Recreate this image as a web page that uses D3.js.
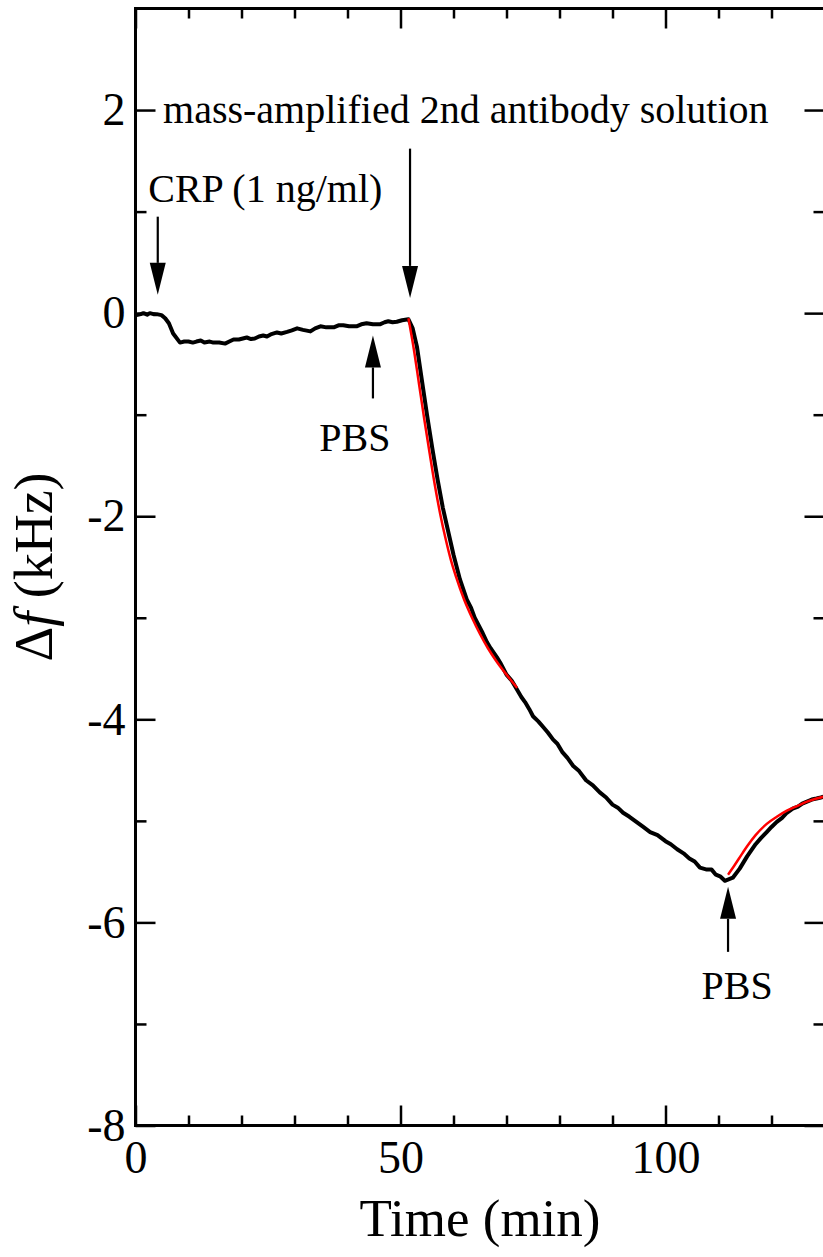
<!DOCTYPE html>
<html>
<head>
<meta charset="utf-8">
<script src="https://cdn.jsdelivr.net/npm/d3@7"></script>
<style>
  body { margin: 0; background: #fff; }
  svg { display: block; font-family: "Liberation Serif", "Times New Roman", serif; }
</style>
</head>
<body>
<div id="chart"></div>
<script>
// Données (temps en min, Δf en kHz)
const timeMeasured = [0, 1, 1.5, 2.2, 2.7, 3.4, 4.0, 4.9, 5.6, 6.3, 7.1, 8.4, 9.2, 10, 10.8, 11.5, 12.3, 13, 14, 14.7, 15.8, 16.9, 17.7, 18.5, 19.5, 21, 21.8, 22.5, 23.3, 24.1, 24.8, 25.5, 26.7, 27.5, 28.6, 29.5, 30.5, 31.6, 33, 33.9, 34.9, 36, 37.4, 38.3, 39.2, 40.3, 41.7, 42.6, 43.6, 44.8, 46.1, 47, 47.7, 48.5, 49.3, 50.3, 51.5,
  52.3, 53.1, 54, 55, 56, 57, 58, 59, 60, 61.2, 62.5, 63.3, 64, 65.5, 66.3, 67, 68.2, 68.8, 70, 71, 72, 72.8, 73.5, 74.3, 75, 76, 77, 77.8, 78.8, 79.6, 80.5, 81.5, 82.6, 83.7, 85, 86.3, 87.6, 88.8, 90, 91, 92, 93.2, 94.5, 95.8, 97.1, 98.5, 100, 101, 102.2, 103.4, 104.5, 105.5, 106.5, 107.8, 108.7, 109.5, 110.4, 111.2,
  112.7, 114, 115.4, 117, 118, 119.1, 120, 121, 122, 122.9, 124, 125, 125.8, 126.7, 127.6, 128.5, 129.3, 130];
const dfMeasured = [-0.02, -0.01, 0.0, -0.015, 0.0, -0.01, -0.01, -0.02, -0.05, -0.10, -0.20, -0.29, -0.28, -0.28, -0.29, -0.28, -0.27, -0.29, -0.28, -0.29, -0.29, -0.30, -0.28, -0.26, -0.26, -0.24, -0.255, -0.25, -0.23, -0.22, -0.23, -0.21, -0.19, -0.2, -0.185, -0.17, -0.15, -0.165, -0.18, -0.15, -0.13, -0.14, -0.14, -0.12, -0.12, -0.13, -0.13, -0.11, -0.10, -0.11, -0.11, -0.09, -0.08, -0.09, -0.085, -0.07, -0.06,
  -0.15, -0.33, -0.65, -1.0, -1.33, -1.64, -1.92, -2.15, -2.38, -2.62, -2.82, -2.9, -3.0, -3.15, -3.24, -3.3, -3.39, -3.44, -3.56, -3.62, -3.71, -3.78, -3.83, -3.9, -3.97, -4.02, -4.08, -4.13, -4.2, -4.24, -4.32, -4.38, -4.46, -4.51, -4.6, -4.65, -4.72, -4.77, -4.84, -4.87, -4.92, -4.96, -5.01, -5.06, -5.11, -5.14, -5.2, -5.23, -5.28, -5.32, -5.37, -5.4, -5.46, -5.48, -5.48, -5.53, -5.55, -5.59,
  -5.56, -5.47, -5.35, -5.23, -5.17, -5.11, -5.06, -5.01, -4.97, -4.92, -4.88, -4.86, -4.83, -4.81, -4.79, -4.78, -4.77, -4.76];

// Courbes d'ajustement (rouge)
const timeFit1 = [51.5, 52.5, 53.5, 54.5, 55.5, 56.5, 57.5, 58.5, 59.5, 60.5, 62, 63.5, 65, 66.5, 68, 70, 72];
const dfFit1 = [-0.05, -0.35, -0.7, -1.05, -1.38, -1.7, -1.98, -2.22, -2.43, -2.6, -2.82, -3.0, -3.16, -3.3, -3.42, -3.56, -3.69];
const timeFit2 = [111.8, 113, 114.5, 115.4, 117, 119.1, 121, 122.9, 125, 126.7, 128.5, 130];
const dfFit2 = [-5.53, -5.44, -5.32, -5.25, -5.14, -5.03, -4.96, -4.9, -4.85, -4.81, -4.78, -4.76];

// Ticks
const xMajorTicks = [0, 50, 100];
const xMinorTicks = [10, 20, 30, 40, 60, 70, 80, 90, 110, 120];
const yMajorTicks = [2, 0, -2, -4, -6, -8];
const yMinorTicks = [1, -1, -3, -5, -7];

// Flèches : temps, Δf de la queue, Δf de la pointe
const arrowTimes = [4.2, 51.8, 44.8, 111.8];
const arrowTails = [0.95, 1.62, -0.84, -6.29];
const arrowTips = [0.18, 0.15, -0.22, -5.65];

// Annotations
const labelTexts = ["CRP (1 ng/ml)", "mass-amplified 2nd antibody solution", "PBS", "PBS"];
const labelTimes = [2.4, 5.2, 41.4, 113.5];
const labelValues = [1.09, 1.87, -1.36, -6.75];
const labelAnchors = ["start", "start", "middle", "middle"];

const width = 823, height = 1257;
const serif = '"Liberation Serif", "Times New Roman", serif';

const svg = d3.select('#chart')
  .append('svg')
  .attr('width', width)
  .attr('height', height);

// Scales
const x = d3.scaleLinear().domain([0, 130]).range([135.5, 824.5]);
const y = d3.scaleLinear().domain([-8, 3]).range([1125.5, 8.5]);
const [x0, x1] = x.range();
const [yb, yt] = y.range();

// clip
svg.append('clipPath').attr('id', 'clip')
  .append('rect')
  .attr('x', x0).attr('y', yt)
  .attr('width', x1 - x0).attr('height', yb - yt);

// Axes (ticks vers l'intérieur)
const tickStyle = g => {
  g.attr('font-family', serif).attr('font-size', 46);
  g.select('.domain').remove();
  g.selectAll('.tick line').attr('stroke', '#000').attr('stroke-width', 2.5);
  g.selectAll('.tick text').attr('fill', '#000');
};

svg.append('g').attr('transform', `translate(0,${yb})`)
  .call(d3.axisBottom(x).tickValues(xMajorTicks).tickSizeInner(-20).tickSizeOuter(0).tickPadding(15).tickFormat(d3.format('d')))
  .call(tickStyle);
svg.append('g').attr('transform', `translate(0,${yb})`)
  .call(d3.axisBottom(x).tickValues(xMinorTicks).tickSizeInner(-10).tickSizeOuter(0).tickFormat(''))
  .call(tickStyle);
svg.append('g').attr('transform', `translate(0,${yt})`)
  .call(d3.axisTop(x).tickValues(xMajorTicks).tickSizeInner(-20).tickSizeOuter(0).tickFormat(''))
  .call(tickStyle);
svg.append('g').attr('transform', `translate(0,${yt})`)
  .call(d3.axisTop(x).tickValues(xMinorTicks).tickSizeInner(-10).tickSizeOuter(0).tickFormat(''))
  .call(tickStyle);

svg.append('g').attr('transform', `translate(${x0},0)`)
  .call(d3.axisLeft(y).tickValues(yMajorTicks).tickSizeInner(-20).tickSizeOuter(0).tickPadding(10).tickFormat(d => String(d)))
  .call(tickStyle);
svg.append('g').attr('transform', `translate(${x0},0)`)
  .call(d3.axisLeft(y).tickValues(yMinorTicks).tickSizeInner(-11).tickSizeOuter(0).tickFormat(''))
  .call(tickStyle);
svg.append('g').attr('transform', `translate(${x1},0)`)
  .call(d3.axisRight(y).tickValues(yMajorTicks).tickSizeInner(-20).tickSizeOuter(0).tickFormat(''))
  .call(tickStyle);
svg.append('g').attr('transform', `translate(${x1},0)`)
  .call(d3.axisRight(y).tickValues(yMinorTicks).tickSizeInner(-11).tickSizeOuter(0).tickFormat(''))
  .call(tickStyle);

// Cadre
svg.append('rect')
  .attr('x', x0).attr('y', yt)
  .attr('width', x1 - x0).attr('height', yb - yt)
  .attr('fill', 'none').attr('stroke', '#000').attr('stroke-width', 3);

// Courbes
const line = d3.line().x(d => x(d[0])).y(d => y(d[1]));
const plot = svg.append('g').attr('clip-path', 'url(#clip)');

plot.append('path')
  .datum(d3.zip(timeMeasured, dfMeasured))
  .attr('d', line)
  .attr('fill', 'none').attr('stroke', '#000').attr('stroke-width', 4)
  .attr('stroke-linejoin', 'round');

[[timeFit1, dfFit1], [timeFit2, dfFit2]].forEach(([t, v]) => {
  plot.append('path')
    .datum(d3.zip(t, v))
    .attr('d', line.curve(d3.curveMonotoneX))
    .attr('fill', 'none').attr('stroke', '#f00').attr('stroke-width', 2.5);
});

// Flèches
const headLen = 32, headHalf = 8;
arrowTimes.forEach((t, i) => {
  const ax = x(t), tail = y(arrowTails[i]), tip = y(arrowTips[i]);
  const dir = tip > tail ? 1 : -1;
  const base = tip - dir * headLen;
  svg.append('line')
    .attr('x1', ax).attr('x2', ax).attr('y1', tail).attr('y2', base)
    .attr('stroke', '#000').attr('stroke-width', 2.2);
  svg.append('path')
    .attr('d', `M${ax},${tip}L${ax - headHalf},${base}L${ax + headHalf},${base}Z`)
    .attr('fill', '#000');
});

// Textes
labelTexts.forEach((txt, i) => {
  svg.append('text')
    .attr('x', x(labelTimes[i]))
    .attr('y', y(labelValues[i]))
    .attr('text-anchor', labelAnchors[i])
    .style('font-size', '40px')
    .text(txt);
});

// Titres des axes
svg.append('text')
  .attr('x', (x0 + x1) / 2)
  .attr('y', 1236)
  .attr('text-anchor', 'middle')
  .style('font-size', '53px')
  .text('Time (min)');

const yTitle = svg.append('text')
  .attr('transform', `translate(52,${(yt + yb) / 2}) rotate(-90)`)
  .attr('text-anchor', 'middle')
  .style('font-size', '54px');
yTitle.append('tspan').text('Δ');
yTitle.append('tspan').style('font-style', 'italic').text('f');
yTitle.append('tspan').text(' (kHz)');
</script>
</body>
</html>
